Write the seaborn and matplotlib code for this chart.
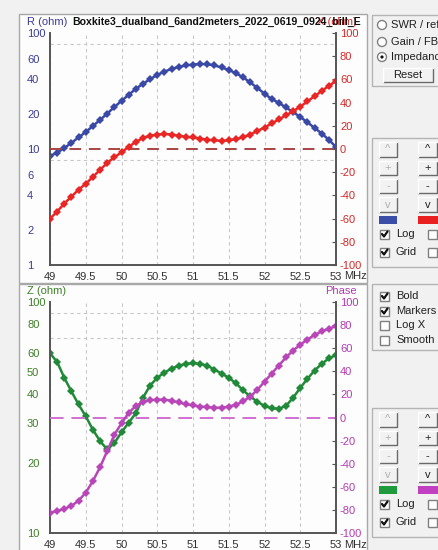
import numpy as np
import pandas as pd
import matplotlib
matplotlib.use("Agg")
import matplotlib.pyplot as plt
import seaborn as sns
from matplotlib.patches import Rectangle, Circle
from matplotlib.ticker import NullFormatter

# ---------------- data ----------------
freq = [49.0, 49.1, 49.2, 49.3, 49.4, 49.5, 49.6, 49.7, 49.8, 49.9,
        50.0, 50.1, 50.2, 50.3, 50.4, 50.5, 50.6, 50.7, 50.8, 50.9,
        51.0, 51.1, 51.2, 51.3, 51.4, 51.5, 51.6, 51.7, 51.8, 51.9,
        52.0, 52.1, 52.2, 52.3, 52.4, 52.5, 52.6, 52.7, 52.8, 52.9, 53.0]
r_ohm = [8.7, 9.3, 10.2, 11.3, 12.6, 14.0, 15.8, 17.8, 20.2, 23.0,
         26.0, 29.3, 33.0, 36.5, 40.0, 43.5, 46.5, 49.0, 51.0, 52.5,
         53.5, 54.0, 53.8, 52.5, 50.5, 48.0, 45.0, 41.5, 37.5, 33.6,
         30.0, 27.0, 25.0, 22.8, 20.8, 18.9, 17.0, 15.2, 13.6, 12.0, 10.4]
x_ohm = [-60, -54, -47, -41, -35, -30, -24, -18, -12, -7,
         -3, 2, 6, 9.5, 11.5, 12.5, 13, 12.5, 11.5, 10.5,
         10, 9, 8, 7.5, 7, 7.5, 8.5, 10, 12.5, 15.5,
         18.5, 22, 25.5, 29, 32.5, 36.5, 41, 45.5, 50, 54.5, 58.5]
z_ohm = [60, 55, 47, 41, 36, 32, 28, 25, 23, 24.5,
         27.3, 30, 33, 38.5, 43.5, 47, 49.5, 51.5, 53, 54,
         54.3, 54, 53, 51, 49, 47, 44.5, 41.5, 39, 37,
         35.5, 34.7, 34.5, 35.5, 38.5, 42.5, 46.5, 50.5, 54, 57, 59]
phase = [-82.5, -81, -79, -76.5, -72, -65, -55, -43, -29, -15,
         -5, 4, 10, 13.5, 15, 15.5, 15.5, 14.5, 13, 11.5,
         10.5, 9.5, 9, 8.5, 8.5, 9.5, 11, 14, 18, 24,
         31, 38, 45, 52, 58, 63, 67.5, 71.5, 74.5, 77, 79]

x_ticks = [49, 49.5, 50, 50.5, 51, 51.5, 52, 52.5, 53]
x_labels = ["49", "49.5", "50", "50.5", "51", "51.5", "52", "52.5", "53"]
r_ticks = [1, 2, 4, 6, 10, 20, 40, 60, 100]
r_grid = [2, 4, 6, 8, 20, 40, 60, 80]
z_ticks = [10, 20, 30, 40, 50, 60, 80, 100]
z_grid = [20, 30, 40, 50, 60, 70, 80, 90]
lin_ticks = [-100, -80, -60, -40, -20, 0, 20, 40, 60, 80, 100]
title = "Boxkite3_dualband_6and2meters_2022_0619_0924_bill_E"

df = pd.DataFrame({"f": freq, "R": r_ohm, "X": x_ohm, "Z": z_ohm, "Phase": phase})

# ---------------- style ----------------
sns.set_style("white")
plt.rcParams["font.family"] = ["Liberation Sans", "DejaVu Sans"]
FS = 8

W, H = 438, 550
fig = plt.figure(figsize=(W / 100, H / 100), dpi=100)
fig.patch.set_facecolor("#f1f1f1")

bg = fig.add_axes([0, 0, 1, 1])
bg.set_xlim(0, W)
bg.set_ylim(H, 0)
bg.axis("off")
bg.set_zorder(0)

# chart panels
for (y0, y1) in [(14, 283), (284, 552)]:
    bg.add_patch(Rectangle((19, y0), 348, y1 - y0, facecolor="#fdfdfd",
                           edgecolor="#a8a8a8", lw=1.0))

def group(x0, y0, x1, y1):
    bg.add_patch(Rectangle((x0, y0), x1 - x0, y1 - y0, facecolor="none",
                           edgecolor="#b4b4b4", lw=1.0))

def button(x0, y0, x1, y1, label, tcolor="#202020"):
    bg.add_patch(Rectangle((x0, y0), x1 - x0, y1 - y0, facecolor="#f2f2f2",
                           edgecolor="none"))
    bg.plot([x0, x1, x1], [y1, y1, y0], color="#6a6a6a", lw=1.0)
    bg.plot([x0, x0, x1], [y1, y0, y0], color="#ffffff", lw=1.0)
    bg.text((x0 + x1) / 2, (y0 + y1) / 2, label, ha="center", va="center",
            fontsize=FS, color=tcolor)

def checkbox(x, y, label, checked):
    bg.add_patch(Rectangle((x, y - 4.5), 9, 9, facecolor="white",
                           edgecolor="#808080", lw=1.0))
    if checked:
        bg.plot([x + 2, x + 4, x + 7.5], [y, y + 2.5, y - 2.5], color="#101010", lw=1.6)
    if label:
        bg.text(x + 16, y, label, ha="left", va="center", fontsize=FS, color="#202020")

def radio(x, y, label, sel):
    bg.add_patch(Circle((x, y), 4.5, facecolor="white", edgecolor="#808080", lw=1.0))
    if sel:
        bg.add_patch(Circle((x, y), 1.6, facecolor="#101010", edgecolor="none"))
    bg.text(x + 9, y, label, ha="left", va="center", fontsize=FS, color="#202020")

# right side controls
group(372, 15, 445, 86)
radio(382, 25, "SWR / ref", False)
radio(382, 42, "Gain / FB", False)
radio(382, 57, "Impedance", True)
button(383, 68, 433, 82, "Reset")

def control_block(ytop, c1, c2):
    group(372, ytop - 4, 445, ytop + 125)
    rows = [(ytop, ytop + 15, "^"), (ytop + 19, ytop + 33, "+"),
            (ytop + 37, ytop + 51, "-"), (ytop + 55, ytop + 70, "v")]
    for (a, b, s) in rows:
        button(379, a, 397, b, s, tcolor="#b0b0b0")
        button(418, a, 437, b, s, tcolor="#202020")
    bg.add_patch(Rectangle((379, ytop + 74), 18, 7.5, facecolor=c1, edgecolor="none"))
    bg.add_patch(Rectangle((418, ytop + 74), 20, 7.5, facecolor=c2, edgecolor="none"))
    checkbox(380, ytop + 92, "Log", True)
    checkbox(428, ytop + 92, "", False)
    checkbox(380, ytop + 110, "Grid", True)
    checkbox(428, ytop + 110, "", False)

control_block(142, "#3a4ea8", "#e82020")
control_block(412, "#1f9a3c", "#c040c0")

group(372, 284, 445, 350)
checkbox(380, 296, "Bold", True)
checkbox(380, 311, "Markers", True)
checkbox(380, 325, "Log X", False)
checkbox(380, 340, "Smooth", False)

# ---------------- charts ----------------
SPINE = "#555555"
GRID = "#c8c8c8"
PX = 1 / 1.389  # points per pixel at 100 dpi

def make_chart(top_px, bot_px, lcol, rcol, yl, yr, lticks, lgrid, llim,
               lc, rc, zero_col, zero_dash):
    ax = fig.add_axes([50 / W, (H - bot_px) / H, 286 / W, (bot_px - top_px) / H])
    ax.set_zorder(2)
    ax.patch.set_visible(False)
    ax2 = ax.twinx()
    ax2.set_zorder(3)
    ax2.patch.set_visible(False)

    sns.lineplot(data=df, x="f", y=yl, ax=ax, color=lc, marker="D", markersize=3.8,
                 markeredgewidth=0, linewidth=1.8)
    sns.lineplot(data=df, x="f", y=yr, ax=ax2, color=rc, marker="D", markersize=3.8,
                 markeredgewidth=0, linewidth=1.8)

    ax.set_yscale("log")
    ax.set_ylim(*llim)
    ax.set_xlim(49, 53)
    ax.set_yticks(lticks)
    ax.set_yticklabels([str(v) for v in lticks], ha="left", color=lcol, fontsize=FS)
    ax.set_yticks(lgrid, minor=True)
    ax.yaxis.set_minor_formatter(NullFormatter())
    ax.tick_params(axis="y", which="both", length=0, pad=23 * PX)
    ax.set_xticks(x_ticks)
    ax.set_xticklabels(x_labels, fontsize=FS, color="#303030")
    ax.tick_params(axis="x", length=2, direction="in", color=SPINE, pad=7 * PX)
    ax.grid(which="minor", axis="y", color=GRID, ls=(0, (3, 3)), lw=0.8)
    ax.grid(which="major", axis="x", color=GRID, ls=(0, (3, 3)), lw=0.8)
    ax.grid(which="major", axis="y", visible=False)
    ax.set_xlabel("")
    ax.set_ylabel("")

    ax2.set_ylim(-100, 100)
    ax2.set_yticks(lin_ticks)
    ax2.set_yticklabels([str(v) for v in lin_ticks], color=rcol, fontsize=FS)
    ax2.tick_params(axis="y", length=3, direction="in", color=SPINE, pad=4 * PX)
    ax2.set_ylabel("")
    ax2.grid(False)
    ax2.axhline(0, color=zero_col, ls=zero_dash, lw=1.4, zorder=1)

    for a in (ax, ax2):
        for s in a.spines.values():
            s.set_visible(False)
    ax.spines["left"].set_visible(True)
    ax.spines["bottom"].set_visible(True)
    ax2.spines["right"].set_visible(True)
    for s in (ax.spines["left"], ax.spines["bottom"], ax2.spines["right"]):
        s.set_color(SPINE)
        s.set_linewidth(1.4)
    return ax, ax2

make_chart(33, 265, "#3c3c94", "#d42a2a", "R", "X", r_ticks, r_grid, (1, 100),
           "#3a48a6", "#e82626", "#a84444", (0, (6, 4)))
make_chart(302, 533, "#3f7f2a", "#b23cb2", "Z", "Phase", z_ticks, z_grid, (10, 100),
           "#208a38", "#b846b8", "#d070d0", (0, (7, 4)))

# chart texts
bg.text(27, 22, "R (ohm)", ha="left", va="center", fontsize=FS, color="#3c3c94")
bg.text(357, 22, "X (ohm)", ha="right", va="center", fontsize=FS, color="#d42a2a")
bg.text(72, 22, title, ha="left", va="center", fontsize=7.6, fontweight="bold",
        color="#101010")
bg.text(344, 276, "MHz", ha="left", va="center", fontsize=FS, color="#303030")
bg.text(27, 291, "Z (ohm)", ha="left", va="center", fontsize=FS, color="#3f7f2a")
bg.text(357, 291, "Phase", ha="right", va="center", fontsize=FS, color="#b23cb2")
bg.text(344, 545, "MHz", ha="left", va="center", fontsize=FS, color="#303030")

fig.savefig("out.png", dpi=100, facecolor=fig.get_facecolor())
